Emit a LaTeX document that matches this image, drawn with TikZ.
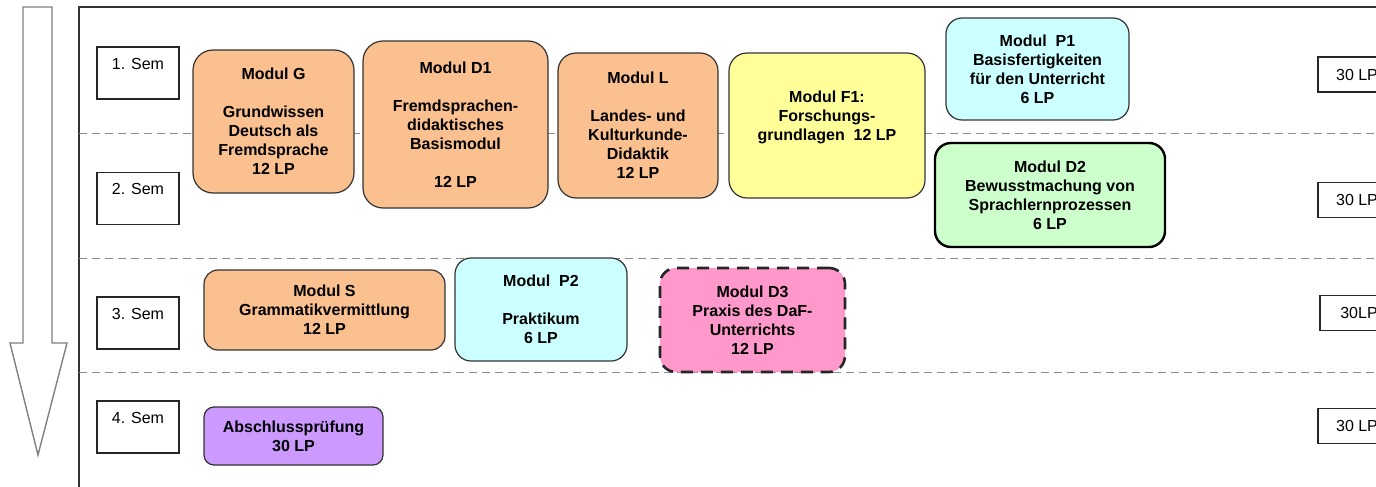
\documentclass[tikz,border=0pt]{standalone}
\usepackage{fontspec}
\setmainfont{Liberation Sans}

\definecolor{orangeM}{HTML}{FAC090}
\definecolor{yellowM}{HTML}{FFFF99}
\definecolor{cyanM}{HTML}{CCFFFF}
\definecolor{greenM}{HTML}{CCFFCC}
\definecolor{pinkM}{HTML}{FF99CC}
\definecolor{lilaM}{HTML}{CC99FF}

\begin{document}
\begin{tikzpicture}[
   x=0.5pt, y=-0.5pt,
   modul/.style={
     rounded corners=9pt,
     fill=#1,
     draw=black!80,
     line width=0.6pt,
     align=center,
     inner sep=1pt,
     font=\bfseries\fontsize{8}{9.5}\selectfont,
    },
   sem/.style={
     draw=black!85,
     line width=0.6pt,
     minimum width=41pt,
     minimum height=26pt,
     inner sep=1pt,
     align=center,
     font=\fontsize{8}{9.5}\selectfont,
    },
   lp/.style={
     draw=black!85,
     line width=0.6pt,
     minimum width=39pt,
     minimum height=17.5pt,
     inner sep=1pt,
     font=\fontsize{8}{9.5}\selectfont,
    },
   trenner/.style={
     draw=black!45,
     line width=0.5pt,
     dash pattern=on 4pt off 2.5pt,
    },
  ]

\useasboundingbox (0,0) rectangle (1376,487);
\clip (0,0) rectangle (1376,487);

\draw[black!50, line width=0.7pt, line join=miter]
  (23,7) -- (23,343) -- (10,343) -- (38,455) -- (67,343) -- (52,343) -- (52,7) -- cycle;
\draw[black!80, line width=1pt] (79,487) -- (79,7) -- (1376,7);
\foreach \y in {133,258,372}
  \draw[trenner] (79,\y) -- (1376,\y);

\node[sem] (S1) at (138,73) {1. Sem\\ ~};
\node[sem] (S2) at (138,198.5) {2. Sem\\ ~};
\node[sem] (S3) at (138,323) {3. Sem\\ ~};
\node[sem] (S4) at (138,427) {4. Sem\\ ~};

\node[lp] (LP1) at (1357,74.5) {30 LP};
\node[lp] (LP2) at (1357,200) {30 LP};
\node[lp] (LP3) at (1359,313) {30LP};
\node[lp] (LP4) at (1357,426) {30 LP};

\node[modul=orangeM, minimum width=80.5pt, minimum height=71.5pt, rounded corners=10pt]
  (G) at (273.5,121.5) {Modul G\\[9.5pt]Grundwissen\\Deutsch als\\Fremdsprache\\12 LP};
\node[modul=orangeM, minimum width=92.5pt, minimum height=83.5pt, rounded corners=10pt]
  (D1) at (455.5,124.5) {Modul D1\\[9.5pt]Fremdsprachen-\\didaktisches\\Basismodul\\[9.5pt]12 LP};
\node[modul=orangeM, minimum width=80pt, minimum height=72.5pt]
  (L) at (638,125.5) {Modul L\\[9.5pt]Landes- und\\Kulturkunde-\\Didaktik\\12 LP};
\node[modul=yellowM, minimum width=98pt, minimum height=72.5pt]
  (F1) at (827,125.5) {Modul F1:\\Forschungs-\\grundlagen\ \ 12 LP\\ ~};
\node[modul=cyanM, minimum width=91.5pt, minimum height=51pt, rounded corners=8pt]
  (P1) at (1037.5,69) {Modul\ \ P1\\Basisfertigkeiten\\für den Unterricht\\6 LP};
\node[modul=greenM, minimum width=115pt, minimum height=52pt, rounded corners=8pt,
      draw=black, line width=1.2pt]
  (D2) at (1050,195) {Modul D2\\Bewusstmachung von\\Sprachlernprozessen\\6 LP};

\node[modul=orangeM, minimum width=120.5pt, minimum height=40pt, rounded corners=7pt]
  (S) at (324.5,310) {Modul S\\Grammatikvermittlung\\12 LP};
\node[modul=cyanM, minimum width=86pt, minimum height=51.5pt, rounded corners=8pt]
  (P2) at (541,309.5) {Modul\ \ P2\\[9.5pt]Praktikum\\6 LP};
\node[modul=pinkM, minimum width=92.5pt, minimum height=52pt, rounded corners=8pt,
      draw=black!85, line width=1.3pt, dash pattern=on 6pt off 4pt]
  (D3) at (752.5,320) {Modul D3\\Praxis des DaF-\\Unterrichts\\12 LP};

\node[modul=lilaM, minimum width=89.5pt, minimum height=29pt, rounded corners=5pt]
  (A) at (293.5,436) {Abschlussprüfung\\30 LP};
\end{tikzpicture}
\end{document}
